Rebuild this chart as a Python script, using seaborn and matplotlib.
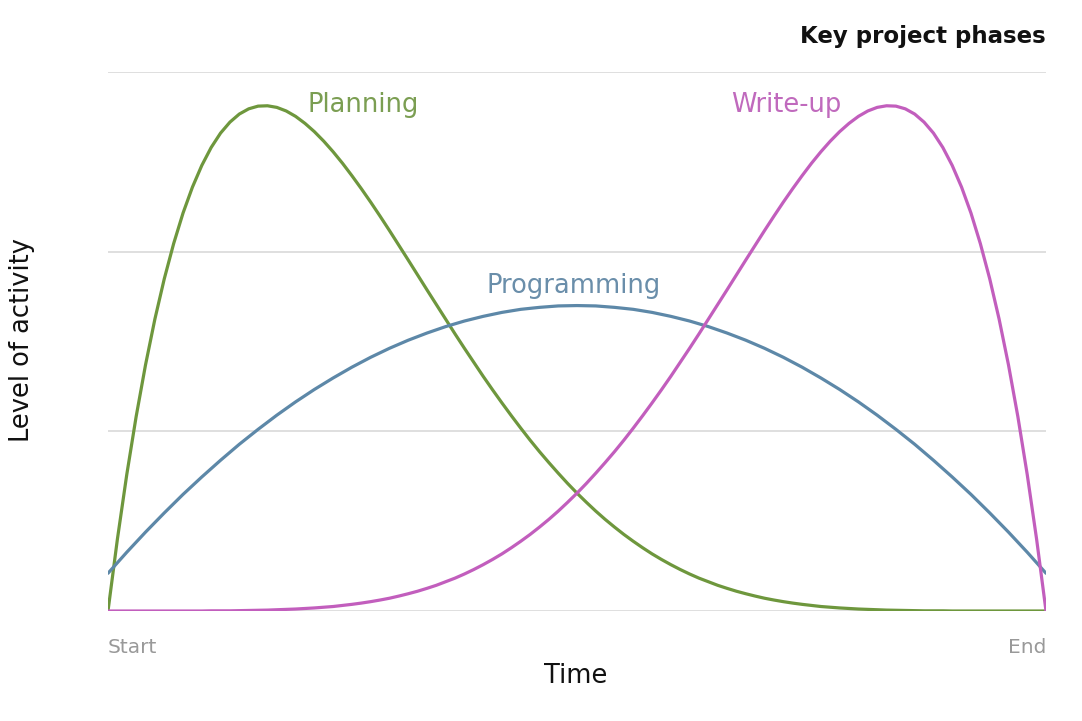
import numpy as np
import pandas as pd
import matplotlib
matplotlib.use("Agg")
import matplotlib.pyplot as plt
import seaborn as sns

# Time as a fraction of the project (Start = 0, End = 1), sampled every 1% / 2%
time_fine = np.linspace(0, 1, 101)
time_coarse = np.linspace(0, 1, 51)

planning = [0.000, 0.399, 0.759, 1.082, 1.370, 1.625, 1.849, 2.045, 2.215, 2.359,
            2.480, 2.580, 2.660, 2.721, 2.766, 2.795, 2.810, 2.812, 2.803, 2.783,
            2.753, 2.714, 2.668, 2.615, 2.556, 2.492, 2.423, 2.351, 2.276, 2.198,
            2.118, 2.036, 1.954, 1.871, 1.788, 1.706, 1.624, 1.542, 1.462, 1.384,
            1.306, 1.231, 1.158, 1.087, 1.018, 0.951, 0.887, 0.826, 0.767, 0.710,
            0.656, 0.605, 0.556, 0.510, 0.467, 0.426, 0.388, 0.352, 0.318, 0.287,
            0.258, 0.231, 0.206, 0.183, 0.163, 0.143, 0.126, 0.110, 0.096, 0.083,
            0.071, 0.061, 0.052, 0.044, 0.037, 0.031, 0.025, 0.021, 0.017, 0.014,
            0.011, 0.009, 0.007, 0.005, 0.004, 0.003, 0.002, 0.001, 0.001, 0.001,
            0.000, 0.000, 0.000, 0.000, 0.000, 0.000, 0.000, 0.000, 0.000, 0.000, 0.000]

writeup = [0.000, 0.000, 0.000, 0.000, 0.000, 0.000, 0.000, 0.000, 0.000, 0.000, 0.000,
           0.001, 0.001, 0.001, 0.002, 0.003, 0.004, 0.005, 0.007, 0.009, 0.011,
           0.014, 0.017, 0.021, 0.025, 0.031, 0.037, 0.044, 0.052, 0.061, 0.071,
           0.083, 0.096, 0.110, 0.126, 0.143, 0.163, 0.183, 0.206, 0.231, 0.258,
           0.287, 0.318, 0.352, 0.388, 0.426, 0.467, 0.510, 0.556, 0.605, 0.656,
           0.710, 0.767, 0.826, 0.887, 0.951, 1.018, 1.087, 1.158, 1.231, 1.306,
           1.384, 1.462, 1.542, 1.624, 1.706, 1.788, 1.871, 1.954, 2.036, 2.118,
           2.198, 2.276, 2.351, 2.423, 2.492, 2.556, 2.615, 2.668, 2.714, 2.753,
           2.783, 2.803, 2.812, 2.810, 2.795, 2.766, 2.721, 2.660, 2.580, 2.480,
           2.359, 2.215, 2.045, 1.849, 1.625, 1.370, 1.082, 0.759, 0.399, 0.000]

programming = [0.210, 0.327, 0.439, 0.546, 0.649, 0.746, 0.839, 0.928, 1.011, 1.090,
               1.164, 1.233, 1.297, 1.357, 1.412, 1.462, 1.507, 1.547, 1.583, 1.614,
               1.640, 1.662, 1.679, 1.690, 1.698, 1.700, 1.698, 1.690, 1.679, 1.662,
               1.640, 1.614, 1.583, 1.547, 1.507, 1.462, 1.412, 1.357, 1.297, 1.233,
               1.164, 1.090, 1.011, 0.928, 0.839, 0.746, 0.649, 0.546, 0.439, 0.327, 0.210]

phases = ["Planning", "Programming", "Write-up"]
x_tick_labels = ["Start", "End"]
title_text = "Key project phases"
x_label = "Time"
y_label = "Level of activity"

line_colors = {"Planning": "#6e973d", "Programming": "#5d88a8", "Write-up": "#c25ebd"}
text_colors = {"Planning": "#7b9e52", "Programming": "#6a8eaa", "Write-up": "#c06abd"}

df = pd.concat([
    pd.DataFrame({"time": time_fine, "activity": planning, "phase": "Planning"}),
    pd.DataFrame({"time": time_coarse, "activity": programming, "phase": "Programming"}),
    pd.DataFrame({"time": time_fine, "activity": writeup, "phase": "Write-up"}),
], ignore_index=True)

sns.set_theme(style="white")
plt.rcParams["font.family"] = ["DejaVu Sans"]

fig = plt.figure(figsize=(10.82, 7.21), dpi=100)
ax = fig.add_axes([108 / 1082, 1 - 611 / 721, (1046 - 108) / 1082, (611 - 72) / 721])

for yv in [0, 1, 2, 3]:
    ax.axhline(yv, color="#dcdcdc", lw=1.3, zorder=0)

sns.lineplot(data=df, x="time", y="activity", hue="phase", hue_order=phases,
             palette=line_colors, linewidth=2.3, legend=False, ax=ax,
             estimator=None, sort=False, solid_joinstyle="round", solid_capstyle="round")

ax.set_xlim(0, 1)
ax.set_ylim(0, 3)
for s in ax.spines.values():
    s.set_visible(False)
ax.set_yticks([])
ax.set_xticks([])
ax.set_xlabel("")
ax.set_ylabel("")

# direct labels
label_pos = {"Planning": (0.2132, 2.817), "Programming": (0.403, 1.811), "Write-up": (0.664, 2.817)}
for ph in phases:
    x, y = label_pos[ph]
    ax.text(x, y, ph, color=text_colors[ph], fontsize=18.5, ha="left", va="center")

# start / end tick labels
ax.text(0, -0.205, x_tick_labels[0], color="#999999", fontsize=14.5, ha="left", va="center",
        clip_on=False)
ax.text(1, -0.205, x_tick_labels[1], color="#999999", fontsize=14.5, ha="right", va="center",
        clip_on=False)

fig.text(576 / 1082, 1 - 676 / 721, x_label, fontsize=18.5, ha="center", va="center", color="#111111")
fig.text(22 / 1082, 1 - 340 / 721, y_label, fontsize=18.5, ha="center", va="center",
         rotation=90, color="#111111")
fig.text(1046 / 1082, 1 - 37 / 721, title_text, fontsize=16.5, fontweight="bold",
         ha="right", va="center", color="#111111")

fig.savefig("out.png", dpi=100, facecolor="white")
